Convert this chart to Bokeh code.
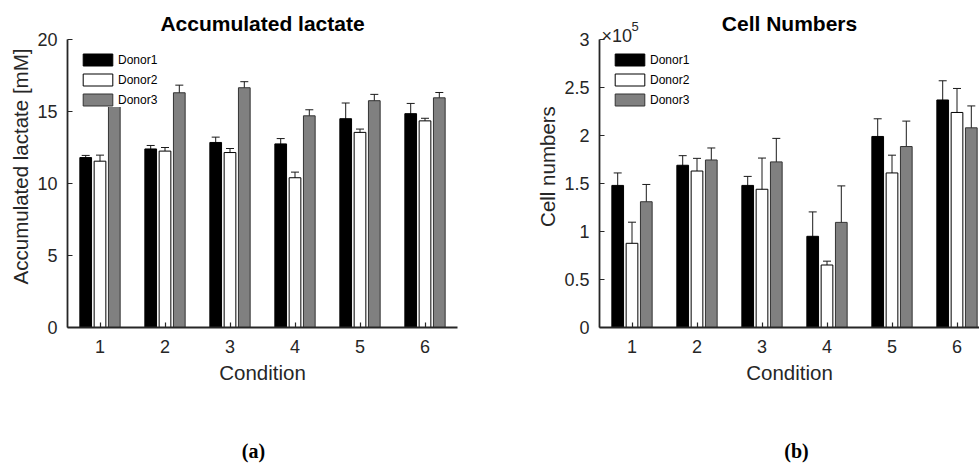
from bokeh.plotting import figure
from bokeh.layouts import row, column
from bokeh.models import (ColumnDataSource, Whisker, TeeHead, Range1d, FixedTicker,
                          NumeralTickFormatter, Label, Legend, LegendItem)
from bokeh.embed import file_html
from bokeh.resources import INLINE

conditions = [1, 2, 3, 4, 5, 6]
donors = ["Donor1", "Donor2", "Donor3"]

lactate_d1 = [11.8, 12.4, 12.85, 12.75, 14.5, 14.85]
lactate_d2 = [11.55, 12.25, 12.15, 10.4, 13.55, 14.35]
lactate_d3 = [15.7, 16.3, 16.65, 14.7, 15.75, 15.95]
lactate_e1 = [0.15, 0.24, 0.37, 0.37, 1.09, 0.71]
lactate_e2 = [0.42, 0.25, 0.28, 0.39, 0.23, 0.18]
lactate_e3 = [0.4, 0.53, 0.42, 0.42, 0.44, 0.37]

cells_scale = 1e5
cells_d1 = [1.48, 1.69, 1.48, 0.95, 1.99, 2.37]
cells_d2 = [0.877, 1.63, 1.44, 0.651, 1.61, 2.24]
cells_d3 = [1.31, 1.745, 1.725, 1.095, 1.885, 2.08]
cells_e1 = [0.13, 0.10, 0.094, 0.254, 0.184, 0.20]
cells_e2 = [0.22, 0.132, 0.325, 0.04, 0.185, 0.25]
cells_e3 = [0.18, 0.125, 0.245, 0.38, 0.265, 0.228]

lactate_ticks = [0, 5, 10, 15, 20]
cells_ticks = [0, 0.5, 1, 1.5, 2, 2.5, 3]

FILLS = ["#000000", "#ffffff", "#808080"]
LINES = ["#000000", "#000000", "#333333"]
OFFSETS = [-0.22, 0.0, 0.22]
BAR_W = 0.18
FONT = "Liberation Sans"
TXT = "#262626"
FRAME_TOP = 5          # canvas px of frame top (space above axis end for title)
AXIS_TOP = 39          # canvas px where the y axis ends
AXIS_BOTTOM = 327      # canvas px of y = 0
FRAME_H = AXIS_BOTTOM - FRAME_TOP
TAG_H = 40             # height of the strip holding the (a)/(b) captions
MAIN_H = 463 - TAG_H


def make_panel(title, ylabel, series, errors, yticks, ymax, width, border_left,
               border_right, xend, fmt):
    px_per_unit = (AXIS_BOTTOM - AXIS_TOP) / ymax
    ytop = ymax + (AXIS_TOP - FRAME_TOP) / px_per_unit
    p = figure(width=width, height=MAIN_H, output_backend="svg", toolbar_location=None,
               x_range=Range1d(0.5, xend), y_range=Range1d(0, ytop),
               min_border_left=border_left, min_border_right=border_right,
               min_border_top=FRAME_TOP, min_border_bottom=MAIN_H - AXIS_BOTTOM)
    p.outline_line_color = None
    p.xgrid.visible = False
    p.ygrid.visible = False
    frame_w = width - border_left - border_right

    items = []
    for i, (vals, errs) in enumerate(zip(series, errors)):
        xs = [c + OFFSETS[i] for c in conditions]
        src = ColumnDataSource(dict(x=xs, top=vals,
                                    lower=[v - e for v, e in zip(vals, errs)],
                                    upper=[v + e for v, e in zip(vals, errs)]))
        r = p.vbar(x="x", top="top", width=BAR_W, bottom=0, source=src,
                   fill_color=FILLS[i], line_color=LINES[i], line_width=1)
        w = Whisker(base="x", lower="lower", upper="upper", source=src,
                    line_color="#1a1a1a", line_width=1,
                    upper_head=TeeHead(size=8, line_color="#1a1a1a", line_width=1),
                    lower_head=TeeHead(size=8, line_color="#1a1a1a", line_width=1))
        p.add_layout(w)
        items.append(LegendItem(label=donors[i], renderers=[r]))

    legend = Legend(items=items, location=(12, 220), glyph_width=37, glyph_height=15,
                    label_height=15, spacing=5, padding=1, margin=0,
                    label_text_font=FONT, label_text_font_size="12px",
                    label_text_color="#000000", label_standoff=2,
                    border_line_color=None, background_fill_color="white",
                    background_fill_alpha=1.0)
    p.add_layout(legend)

    for ax in (p.xaxis[0], p.yaxis[0]):
        ax.axis_line_color = TXT
        ax.axis_line_width = 1.8
        ax.major_tick_line_color = TXT
        ax.major_tick_line_width = 1.2
        ax.major_tick_in = 5
        ax.major_tick_out = 0
        ax.minor_tick_line_color = None
        ax.major_label_text_font = FONT
        ax.major_label_text_font_size = "18px"
        ax.major_label_text_color = TXT
        ax.axis_label_text_font = FONT
        ax.axis_label_text_font_size = "20.5px"
        ax.axis_label_text_font_style = "normal"
        ax.axis_label_text_color = TXT

    p.xaxis.ticker = FixedTicker(ticks=conditions)
    p.xaxis.axis_label = "Condition"
    p.xaxis.major_label_standoff = 12
    p.xaxis.axis_label_standoff = 5
    p.yaxis.ticker = FixedTicker(ticks=yticks)
    p.yaxis.formatter = NumeralTickFormatter(format=fmt)
    p.yaxis.bounds = (0, ymax)
    p.yaxis.axis_label = ylabel
    p.yaxis.major_label_standoff = 10
    p.yaxis.axis_label_standoff = 2

    # panel title, drawn inside the (taller) frame above the axis end
    p.add_layout(Label(x=frame_w / 2, y=FRAME_H - (23 - FRAME_TOP), x_units="screen",
                       y_units="screen", text=title, text_align="center",
                       text_baseline="middle", text_font=FONT, text_font_size="21px",
                       text_font_style="bold", text_color="#000000"))
    return p


def make_tag(tag, width, center_x):
    t = figure(width=width, height=TAG_H, output_backend="svg", toolbar_location=None,
               x_range=Range1d(0, 1), y_range=Range1d(0, 1),
               min_border=0, min_border_left=0, min_border_right=0,
               min_border_top=0, min_border_bottom=0)
    t.axis.visible = False
    t.grid.visible = False
    t.outline_line_color = None
    t.add_layout(Label(x=center_x, y=13, x_units="screen", y_units="screen", text=tag,
                       text_align="center", text_baseline="middle",
                       text_font="Liberation Serif", text_font_size="20px",
                       text_font_style="bold", text_color="#000000"))
    return t


p1 = make_panel("Accumulated lactate", "Accumulated lactate [mM]",
                [lactate_d1, lactate_d2, lactate_d3],
                [lactate_e1, lactate_e2, lactate_e3],
                lactate_ticks, 20, 490, 67, 33, 6.5, "0")

p2 = make_panel("Cell Numbers", "Cell numbers",
                [cells_d1, cells_d2, cells_d3],
                [cells_e1, cells_e2, cells_e3],
                cells_ticks, 3, 489, 109, 0, 0.5 + 380 / 65.0, "0.[0]")

p2.add_layout(Label(x=2, y=FRAME_H - (35 - FRAME_TOP), x_units="screen", y_units="screen",
                    text="\u00d710", text_font=FONT, text_font_size="18px",
                    text_color=TXT, text_baseline="alphabetic"))
p2.add_layout(Label(x=32, y=FRAME_H - (26 - FRAME_TOP), x_units="screen", y_units="screen",
                    text="5", text_font=FONT, text_font_size="13px", text_color=TXT,
                    text_baseline="alphabetic"))

t1 = make_tag("(a)", 490, 253)
t2 = make_tag("(b)", 489, 796 - 490)

layout = column(row(p1, p2, spacing=0), row(t1, t2, spacing=0), spacing=0)
open("out.html", "w").write(file_html(layout, INLINE))
